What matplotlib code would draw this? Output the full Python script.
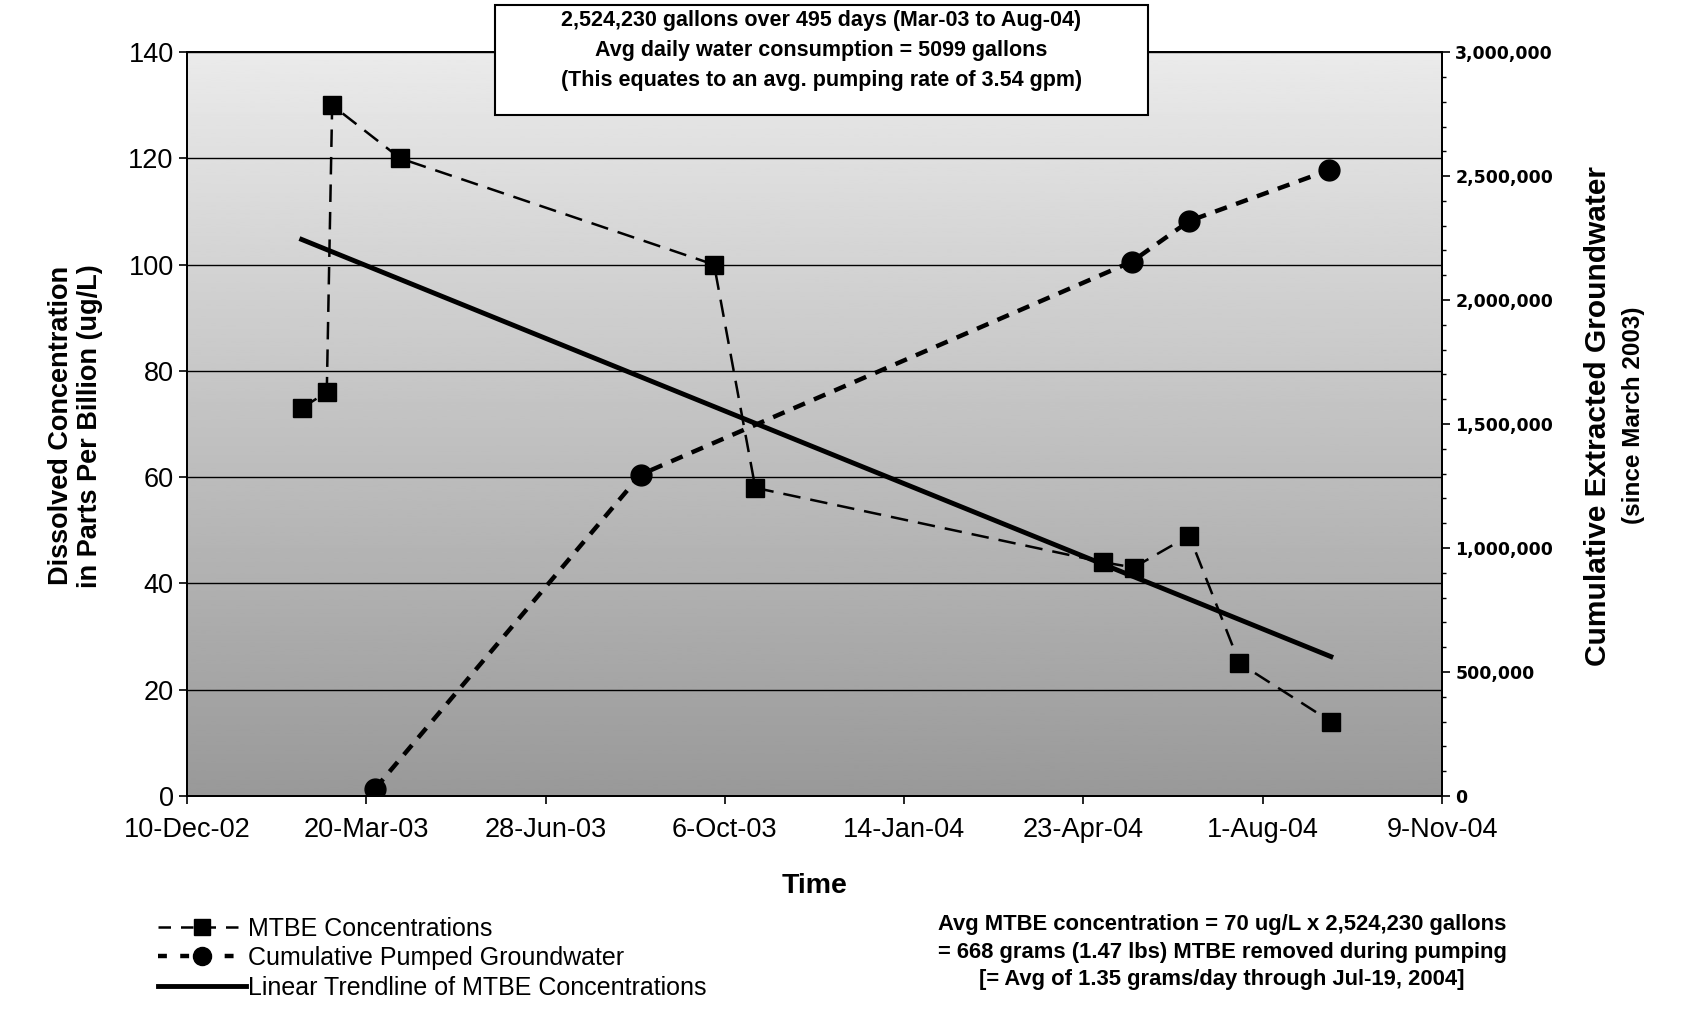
"""
MTBE concentrations vs cumulative pumped groundwater, with a linear trendline.
"""

import matplotlib
matplotlib.use("Agg")
import matplotlib.pyplot as plt
import matplotlib.dates as mdates
from matplotlib.lines import Line2D
from matplotlib.patches import Rectangle
import numpy as np
import pandas as pd


# MTBE samples (ug/L)
mtbe_dates = ['2003-02-12', '2003-02-26', '2003-03-01', '2003-04-08', '2003-09-30',
              '2003-10-23', '2004-05-04', '2004-05-21', '2004-06-21', '2004-07-19',
              '2004-09-08']
mtbe_values = [73, 76, 130, 120, 100, 58, 44, 43, 49, 25, 14]

# cumulative extracted groundwater (gallons)
pump_dates = ['2003-03-25', '2003-08-20', '2004-05-20', '2004-06-21', '2004-09-07']
pump_values = [30000, 1296000, 2155000, 2319000, 2524230]

tick_dates = ['2002-12-10', '2003-03-20', '2003-06-28', '2003-10-06', '2004-01-14',
              '2004-04-23', '2004-08-01', '2004-11-09']
tick_labels = ['10-Dec-02', '20-Mar-03', '28-Jun-03', '6-Oct-03', '14-Jan-04',
               '23-Apr-04', '1-Aug-04', '9-Nov-04']

NARROW = ['Liberation Sans Narrow', 'Liberation Sans', 'DejaVu Sans']
plt.rcParams['font.family'] = ['Liberation Sans', 'DejaVu Sans']

mtbe_x = mdates.date2num(pd.to_datetime(mtbe_dates))
pump_x = mdates.date2num(pd.to_datetime(pump_dates))
ticks_x = mdates.date2num(pd.to_datetime(tick_dates))

# linear trendline of the MTBE samples
slope, intercept = np.polyfit(mtbe_x, mtbe_values, 1)
trend_x = np.array([mtbe_x[0], mtbe_x[-1]])
trend_y = slope * trend_x + intercept

fig = plt.figure(figsize=(16.87, 10.14), dpi=100)
ax = fig.add_axes([0.1108, 0.215, 0.7440, 0.7336])
ax2 = ax.twinx()

# stippled grey background, approximated as a vertical gradient
grad = np.linspace(0.60, 0.92, 256).reshape(-1, 1)
ax.imshow(grad, cmap='gray', vmin=0, vmax=1, origin='lower', aspect='auto',
          extent=[ticks_x[0], ticks_x[-1], 0, 140], zorder=0)

ax.set_xlim(ticks_x[0], ticks_x[-1])
ax.set_ylim(0, 140)
ax2.set_ylim(0, 3000000)

ax.set_yticks(range(0, 141, 20))
ax.yaxis.grid(True, color='black', linewidth=1.0)
ax.set_axisbelow(False)
ax.set_xticks(ticks_x)
ax.set_xticklabels(tick_labels)
ax.tick_params(labelsize=19.5, length=6, width=1.2, direction='out')
ax.tick_params(axis='x', pad=9)

ax2.set_yticks(range(0, 3000001, 500000))
ax2.set_yticks(range(0, 3000001, 100000), minor=True)
ax2.set_yticklabels([f'{v:,}' for v in range(0, 3000001, 500000)],
                    fontweight='bold', family='DejaVu Sans', fontsize=12.5)
ax2.tick_params(axis='y', which='major', length=6, width=1.2)
ax2.tick_params(axis='y', which='minor', length=3, width=1)

for a in (ax, ax2):
    for s in a.spines.values():
        s.set_linewidth(1.4)

ax.plot(mtbe_x, mtbe_values, color='black', linestyle=(0, (7, 4)), linewidth=1.8,
        marker='s', markersize=13, zorder=4)
ax.plot(trend_x, trend_y, color='black', linewidth=3.5, zorder=3)
ax2.plot(pump_x, pump_values, color='black', linestyle=(0, (2.8, 2.2)), linewidth=3.2,
         marker='o', markersize=15, zorder=4)

ax.set_xlabel('Time', fontsize=20.5, fontweight='bold', labelpad=22)

fig.text(0.0445, 0.58, 'Dissolved Concentration\nin Parts Per Billion (ug/L)',
         rotation=90, ha='center', va='center', fontsize=19.5, fontweight='bold',
         linespacing=1.15)
fig.text(0.947, 0.59, 'Cumulative Extracted Groundwater', rotation=90,
         ha='center', va='center', fontsize=21.5, fontweight='bold', family=NARROW)
fig.text(0.968, 0.59, '(since March 2003)', rotation=90,
         ha='center', va='center', fontsize=17.5, fontweight='bold', family=NARROW)

# summary box at the top
fig.patches.append(Rectangle((0.2934, 0.8866), 0.3871, 0.1084, transform=fig.transFigure,
                             facecolor='white', edgecolor='black', linewidth=1.5,
                             zorder=5))
box_lines = ['2,524,230 gallons over 495 days (Mar-03 to Aug-04)',
             'Avg daily water consumption = 5099 gallons',
             '(This equates to an avg. pumping rate of 3.54 gpm)']
for i, line in enumerate(box_lines):
    fig.text(0.4867, 0.980 - i * 0.0295, line, ha='center', va='center', fontsize=15.5,
             fontweight='bold', family=NARROW, zorder=6)

# legend
handles = [
    Line2D([], [], color='black', linestyle=(0, (5, 4)), linewidth=1.8,
           marker='s', markersize=12),
    Line2D([], [], color='black', linestyle=(0, (2, 3)), linewidth=3.2,
           marker='o', markersize=13),
    Line2D([], [], color='black', linewidth=3.5),
]
labels = ['MTBE Concentrations', 'Cumulative Pumped Groundwater',
          'Linear Trendline of MTBE Concentrations']
fig.legend(handles, labels, loc='upper left', bbox_to_anchor=(0.088, 0.106),
           frameon=False, fontsize=18, handlelength=3.5, handletextpad=0.1,
           labelspacing=0.22, borderaxespad=0)

note = ('Avg MTBE concentration = 70 ug/L x 2,524,230 gallons\n'
        '= 668 grams (1.47 lbs) MTBE removed during pumping\n'
        '[= Avg of 1.35 grams/day through Jul-19, 2004]')
fig.text(0.7245, 0.061, note, ha='center', va='center', fontsize=15.8,
         fontweight='bold', family=NARROW, linespacing=1.4)

fig.savefig('out.png', dpi=100)
